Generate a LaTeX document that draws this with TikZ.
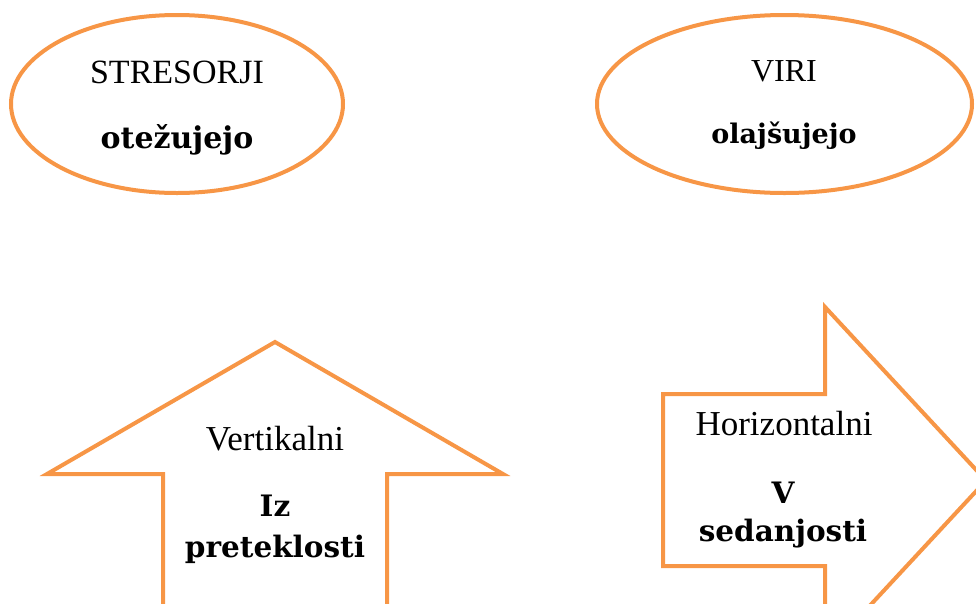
\documentclass[tikz,border=0pt]{standalone}
\usepackage{fontspec}
\setmainfont{Liberation Serif}
\newfontfamily\boldserif{DejaVu Serif}
\usetikzlibrary{shapes.geometric}
\definecolor{accent}{HTML}{F79646}
\tikzset{
  shapeline/.style={draw=accent, line width=4pt, line join=miter},
  oval/.style={shapeline, ellipse, inner sep=0pt},
  reg/.style={anchor=base, inner sep=0pt, font=\fontsize{35}{40}\selectfont},
  bld/.style={anchor=base, inner sep=0pt, font=\boldserif\bfseries\fontsize{29.5}{34}\selectfont},
}
\begin{document}
\begin{tikzpicture}[x=1pt,y=-1pt]
\useasboundingbox (0,0) rectangle (976,603);
\clip (0,0) rectangle (976,603);
\node[oval, minimum width=332pt, minimum height=178pt] (ovalL) at (177,104) {};
\node[oval, minimum width=375pt, minimum height=178pt] (ovalR) at (784.5,104) {};
\node[reg, font=\fontsize{34}{38}\selectfont] (stres) at (177,83) {STRESORJI};
\node[bld, font=\boldserif\bfseries\fontsize{30}{34}\selectfont] (otez) at (177,148) {otežujejo};
\node[reg, font=\fontsize{32}{36}\selectfont] (viri) at (784,81) {VIRI};
\node[bld, font=\boldserif\bfseries\fontsize{27}{31}\selectfont] (olaj) at (784,143) {olajšujejo};
% vertical arrow
\draw[shapeline] (163,620) -- (163,474) -- (47,474) -- (275,342) -- (503,474) -- (387,474) -- (387,620);
\node[reg] (vert) at (275,450) {Vertikalni};
\node[bld] (iz) at (275,516) {Iz};
\node[bld] (pret) at (275,557) {preteklosti};
% horizontal arrow
\draw[shapeline] (663,394) -- (825,394) -- (825,307) -- (986,480.5) -- (825,654) -- (825,566) -- (663,566) -- cycle;
\node[reg] (hor) at (784,435) {Horizontalni};
\node[bld] (vv) at (783,503) {V};
\node[bld] (sed) at (783,541) {sedanjosti};
\end{tikzpicture}
\end{document}
